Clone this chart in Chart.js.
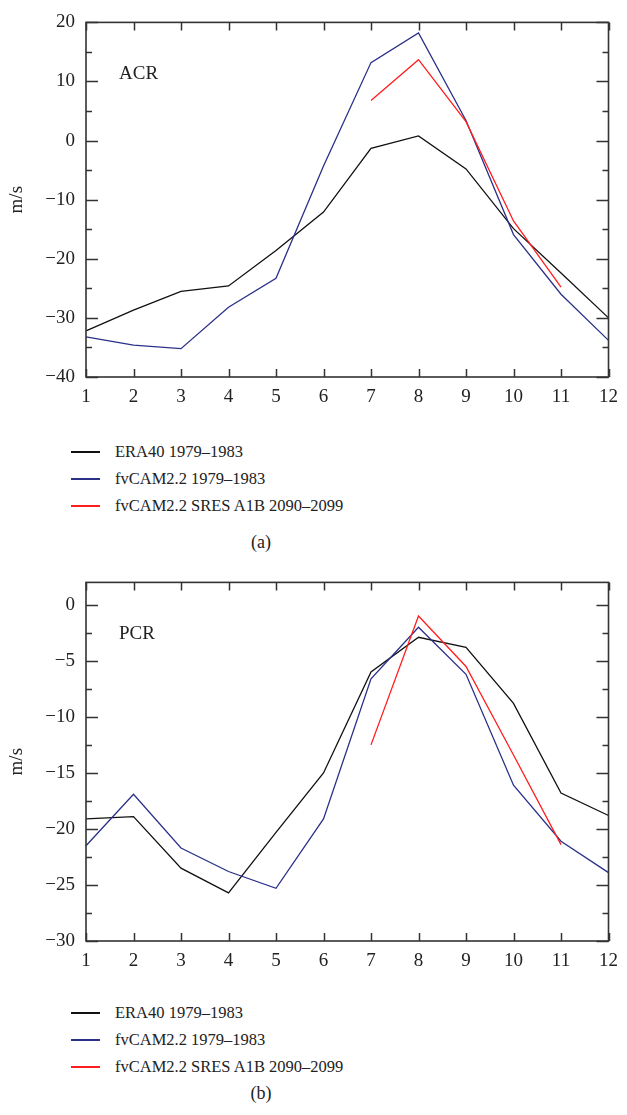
<!DOCTYPE html>
<html>
<head>
<meta charset="utf-8">
<title>ACR / PCR monthly wind</title>
<script src="https://cdn.jsdelivr.net/npm/chart.js@4.4.1/dist/chart.umd.min.js"></script>
<style>
  html, body { margin: 0; padding: 0; background: #fff; }
  body { width: 627px; height: 1115px; position: relative; font-family: "Liberation Serif", serif; color: #222; overflow: hidden; }
  canvas { position: absolute; left: 0; }
  .legend { position: absolute; left: 71px; font-size: 16.5px; }
  .legend div { position: relative; height: 27px; line-height: 27px; padding-left: 44px; white-space: nowrap; }
  .legend span { position: absolute; left: 0; top: 13px; width: 29px; height: 1.5px; }
  .caption { position: absolute; left: 0; width: 522px; text-align: center; font-size: 18px; line-height: 24px; }
</style>
</head>
<body>
<canvas id="chart-acr" width="627" height="420" style="top:0"></canvas>
<div class="legend" style="top:438px">
  <div><span style="background:#111"></span>ERA40 1979–1983</div>
  <div><span style="background:#2b3089"></span>fvCAM2.2 1979–1983</div>
  <div><span style="background:#ff1e1e"></span>fvCAM2.2 SRES A1B 2090–2099</div>
</div>
<div class="caption" style="top:530px">(a)</div>

<canvas id="chart-pcr" width="627" height="424" style="top:560px"></canvas>
<div class="legend" style="top:999px">
  <div><span style="background:#111"></span>ERA40 1979–1983</div>
  <div><span style="background:#2b3089"></span>fvCAM2.2 1979–1983</div>
  <div><span style="background:#ff1e1e"></span>fvCAM2.2 SRES A1B 2090–2099</div>
</div>
<div class="caption" style="top:1081px">(b)</div>

<script>
/* ── 数据 ── */
const months = ['1', '2', '3', '4', '5', '6', '7', '8', '9', '10', '11', '12'];

// ACR
const acrEra40 = [-32.2, -28.7, -25.5, -24.6, -18.6, -12.1, -1.3, 0.8, -4.8, -14.9, -22.4, -30.0];
const acrCam   = [-33.2, -34.6, -35.2, -28.2, -23.3, -4.3, 13.2, 18.2, 3.4, -15.9, -26.0, -33.8];
const acrA1b   = [null, null, null, null, null, null, 6.8, 13.7, 3.2, -13.6, -24.8, null];
const acrMajor = [-40, -30, -20, -10, 0, 10, 20];
const acrMinor = [-35, -25, -15, -5, 5, 15];

// PCR
const pcrEra40 = [-19.1, -18.9, -23.5, -25.7, -20.3, -15.0, -6.0, -2.9, -3.8, -8.8, -16.8, -18.8];
const pcrCam   = [-21.5, -16.9, -21.7, -23.8, -25.3, -19.1, -6.6, -2.0, -6.2, -16.1, -21.1, -23.9];
const pcrA1b   = [null, null, null, null, null, null, -12.5, -1.0, -5.5, -13.4, -21.4, null];
const pcrMajor = [-30, -25, -20, -15, -10, -5, 0];
const pcrMinor = [-27.5, -22.5, -17.5, -12.5, -7.5, -2.5];

const C_ERA = '#111111';
const C_CAM = '#2b3089';
const C_A1B = '#ff1e1e';

Chart.defaults.font.family = '"Liberation Serif", "Times New Roman", serif';
Chart.defaults.color = '#222';

const fmtTick = v => (v < 0 ? '\u2212' + Math.abs(v) : String(v));

// 边框 + 向内刻度 + 面板标签
const framePlugin = {
    id: 'frame',
    afterDatasetsDraw(chart, args, opts) {
        const { ctx, chartArea: a, scales: { x, y } } = chart;
        ctx.save();
        ctx.strokeStyle = '#333';
        ctx.lineWidth = 1.6;
        ctx.strokeRect(a.left, a.top, a.right - a.left, a.bottom - a.top);

        ctx.lineWidth = 1.5;
        ctx.beginPath();
        x.ticks.forEach((t, i) => {
            const px = Math.round(x.getPixelForTick(i)) + 0.5;
            ctx.moveTo(px, a.bottom); ctx.lineTo(px, a.bottom - 8);
            ctx.moveTo(px, a.top); ctx.lineTo(px, a.top + 8);
        });
        y.ticks.forEach(t => {
            const py = Math.round(y.getPixelForValue(t.value)) + 0.5;
            ctx.moveTo(a.left, py); ctx.lineTo(a.left + 12, py);
            ctx.moveTo(a.right, py); ctx.lineTo(a.right - 12, py);
        });
        (opts.minor || []).forEach(v => {
            const py = Math.round(y.getPixelForValue(v)) + 0.5;
            ctx.moveTo(a.left, py); ctx.lineTo(a.left + 6, py);
            ctx.moveTo(a.right, py); ctx.lineTo(a.right - 6, py);
        });
        ctx.stroke();

        if (opts.label) {
            ctx.fillStyle = '#222';
            ctx.font = '19px "Liberation Serif", serif';
            ctx.textBaseline = 'middle';
            ctx.fillText(opts.label, a.left + 33, a.top + 52);
        }
        ctx.restore();
    },
};

function lineSet(label, data, color, order) {
    return {
        label, data, order,
        borderColor: color,
        backgroundColor: color,
        borderWidth: 1.3,
        pointRadius: 0,
        tension: 0,
        fill: false,
    };
}

function makePanel(id, opts) {
    return new Chart(document.getElementById(id), {
        type: 'line',
        data: {
            labels: months,
            datasets: [
                lineSet('ERA40 1979–1983', opts.era, C_ERA, 2),
                lineSet('fvCAM2.2 1979–1983', opts.cam, C_CAM, 1),
                lineSet('fvCAM2.2 SRES A1B 2090–2099', opts.a1b, C_A1B, 0),
            ],
        },
        options: {
            responsive: false,
            animation: false,
            layout: { padding: { top: 11, right: 12, left: 0, bottom: 0 } },
            scales: {
                x: {
                    offset: false,
                    grid: { display: false, drawTicks: false },
                    border: { display: false },
                    ticks: { padding: 9, maxRotation: 0, font: { size: 19 }, color: '#222' },
                    afterFit: s => { s.height = 43; },
                },
                y: {
                    min: opts.min,
                    max: opts.max,
                    grid: { display: false, drawTicks: false },
                    border: { display: false },
                    ticks: { padding: 11, font: { size: 19 }, color: '#222', callback: fmtTick },
                    afterBuildTicks: s => { s.ticks = opts.major.map(v => ({ value: v })); },
                    afterFit: s => { s.width = 86; },
                    title: { display: true, text: 'm/s', font: { size: 19 }, color: '#222', padding: { top: 6, bottom: 0 } },
                },
            },
            plugins: {
                legend: { display: false },
                tooltip: { enabled: false },
                frame: { label: opts.label, minor: opts.minor },
            },
        },
        plugins: [framePlugin],
    });
}

makePanel('chart-acr', {
    era: acrEra40, cam: acrCam, a1b: acrA1b,
    min: -40, max: 20, major: acrMajor, minor: acrMinor, label: 'ACR',
});

makePanel('chart-pcr', {
    era: pcrEra40, cam: pcrCam, a1b: pcrA1b,
    min: -30, max: 2, major: pcrMajor, minor: pcrMinor, label: 'PCR',
});
</script>
</body>
</html>
